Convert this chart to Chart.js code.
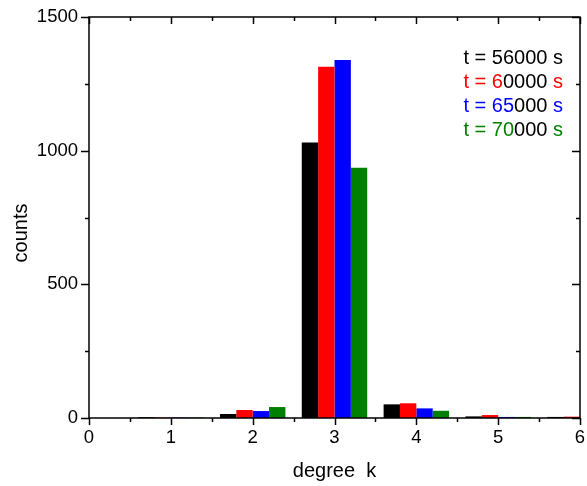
<!DOCTYPE html>
<html>
<head>
<meta charset="utf-8">
<script src="https://cdn.jsdelivr.net/npm/chart.js@4/dist/chart.umd.min.js"></script>
<style>
  html, body { margin: 0; padding: 0; background: #ffffff; }
  #wrap { width: 587px; height: 486px; position: relative; }
</style>
</head>
<body>
<div id="wrap"><canvas id="chart"></canvas></div>
<script>
// degree k on the x axis
const degrees = [0, 1, 2, 3, 4, 5, 6];

// counts per degree, one array per snapshot time
const counts56000 = [0, 3, 15, 1031, 51, 6, 4];
const counts60000 = [0, 2, 30, 1314, 55, 11, 5];
const counts65000 = [0, 2, 26, 1339, 36, 4, 0];
const counts70000 = [0, 2, 41, 936, 27, 4, 0];

const seriesColors = ['#000000', '#ff0000', '#0000ff', '#008000'];

// legend rows: [text, colour index] pieces, -1 means black
const legendRows = [
  [['t = 56000 s', 0]],
  [['t = 6', 1], ['0000', -1], [' s', 1]],
  [['t = 65', 2], ['000', -1], [' s', 2]],
  [['t = 70', 3], ['000', -1], [' s', 3]],
];

const xTicks = [0, 1, 2, 3, 4, 5, 6];
const yTicks = [0, 500, 1000, 1500];

const FONT = '"Liberation Sans", Arial, sans-serif';

function toPoints(values) {
  return degrees.map((k, i) => ({x: k, y: values[i]}));
}

function noPadding(scale) {
  scale.paddingLeft = 0;
  scale.paddingRight = 0;
  scale.paddingTop = 0;
  scale.paddingBottom = 0;
}

// Box frame, ticks (major + minor), axis titles and the legend.
const framePlugin = {
  id: 'frame',
  afterDraw: (chart) => {
    const {ctx, chartArea: {left, right, top, bottom}} = chart;
    const xs = chart.scales.x;
    const ys = chart.scales.y;

    ctx.save();
    ctx.strokeStyle = '#000000';
    ctx.lineWidth = 1.5;
    ctx.strokeRect(left, top, right - left, bottom - top);

    ctx.beginPath();
    for (let v = 0; v <= 6.001; v += 0.5) {
      const px = Math.round(xs.getPixelForValue(v)) + 0.5;
      const len = Number.isInteger(v) ? 7 : 4;
      ctx.moveTo(px, bottom);
      ctx.lineTo(px, bottom + len);
      ctx.moveTo(px, top);
      ctx.lineTo(px, top + len);
    }
    for (let v = 0; v <= 1500; v += 250) {
      const py = Math.round(ys.getPixelForValue(v)) + 0.5;
      const len = v % 500 === 0 ? 8 : 4;
      ctx.moveTo(left - len, py);
      ctx.lineTo(left, py);
      ctx.moveTo(right - len, py);
      ctx.lineTo(right, py);
    }
    ctx.stroke();

    // axis titles
    ctx.fillStyle = '#000000';
    ctx.font = '20px ' + FONT;
    ctx.textAlign = 'center';
    ctx.textBaseline = 'alphabetic';
    ctx.fillText('degree  k', (left + right) / 2, 477);

    ctx.save();
    ctx.translate(27, 233);
    ctx.rotate(-Math.PI / 2);
    ctx.fillText('counts', 0, 0);
    ctx.restore();

    // legend, right aligned
    ctx.textAlign = 'left';
    legendRows.forEach((pieces, row) => {
      const total = pieces.reduce((w, p) => w + ctx.measureText(p[0]).width, 0);
      let x = 563 - total;
      const y = 64 + row * 24;
      pieces.forEach(([text, ci]) => {
        ctx.fillStyle = ci < 0 ? '#000000' : seriesColors[ci];
        ctx.fillText(text, x, y);
        x += ctx.measureText(text).width;
      });
    });
    ctx.restore();
  }
};

const datasets = [counts56000, counts60000, counts65000, counts70000].map((values, i) => ({
  label: 't' + i,
  data: toPoints(values),
  backgroundColor: seriesColors[i],
  borderWidth: 0,
  barPercentage: 1.0,
  categoryPercentage: 0.8,
  clip: 0,
}));

new Chart(document.getElementById('chart'), {
  type: 'bar',
  data: {datasets: datasets},
  options: {
    responsive: true,
    maintainAspectRatio: false,
    animation: false,
    layout: {padding: {top: 17, right: 7, left: 0, bottom: 0}},
    plugins: {
      legend: {display: false},
      tooltip: {enabled: false},
    },
    scales: {
      x: {
        type: 'linear',
        min: 0,
        max: 6,
        offset: false,
        afterBuildTicks: (scale) => { scale.ticks = xTicks.map(v => ({value: v})); },
        afterFit: (scale) => { scale.height = 68; noPadding(scale); },
        grid: {display: false, drawTicks: false},
        border: {display: false},
        ticks: {
          color: '#000000',
          padding: 9,
          maxRotation: 0,
          font: {family: FONT, size: 18.5},
          callback: (value) => String(value),
        },
      },
      y: {
        type: 'linear',
        min: 0,
        max: 1500,
        afterBuildTicks: (scale) => { scale.ticks = yTicks.map(v => ({value: v})); },
        afterFit: (scale) => { scale.width = 89; noPadding(scale); },
        grid: {display: false, drawTicks: false},
        border: {display: false},
        ticks: {
          color: '#000000',
          padding: 11,
          font: {family: FONT, size: 18.5},
          callback: (value) => String(value),
        },
      },
    },
  },
  plugins: [framePlugin],
});
</script>
</body>
</html>
